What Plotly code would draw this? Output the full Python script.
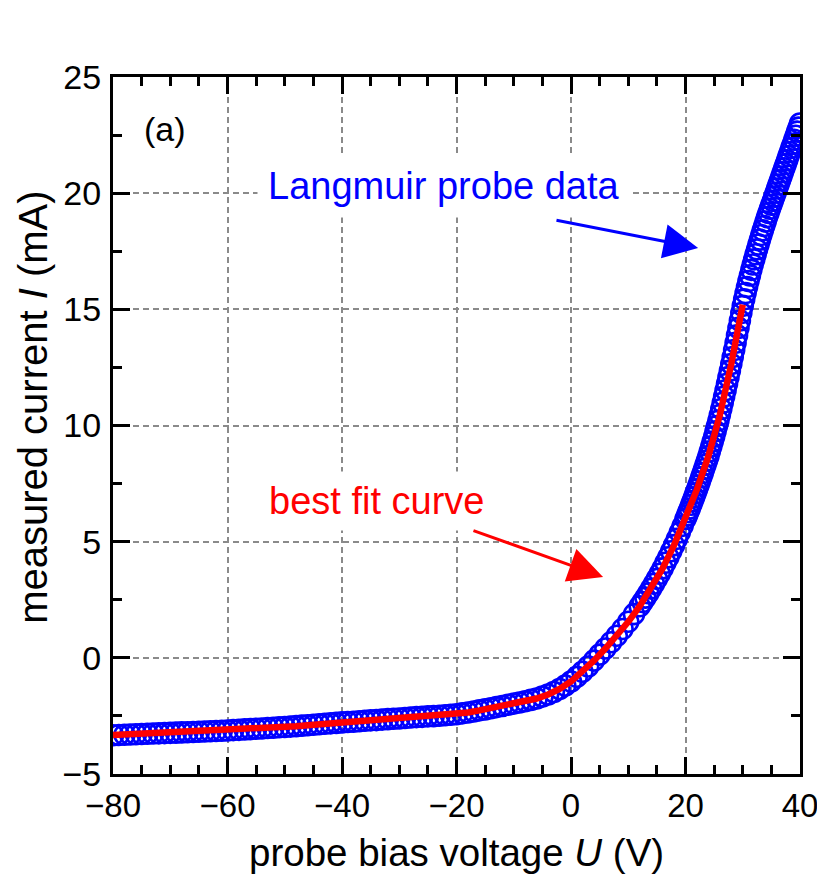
import plotly.graph_objects as go

# ---- data ----
U_data = [-80, -79, -78, -77, -76, -75, -74, -73, -72, -71, -70, -69, -68, -67, -66, -65, -64, -63, -62, -61,
          -60, -59, -58, -57, -56, -55, -54, -53, -52, -51, -50, -49, -48, -47, -46, -45, -44, -43, -42, -41,
          -40, -39, -38, -37, -36, -35, -34, -33, -32, -31, -30, -29, -28, -27, -26, -25, -24, -23, -22, -21,
          -20, -19, -18, -17, -16, -15, -14, -13, -12, -11, -10, -9, -8, -7, -6, -5, -4, -3, -2, -1,
          0, 1, 2, 3, 4, 5, 6, 7, 8, 9, 10, 11, 12,
          12.5, 13, 13.5, 14, 14.5, 15, 15.5, 16, 16.5, 17, 17.5, 18, 18.5, 19, 19.5,
          20, 20.25, 20.5, 20.75, 21, 21.25, 21.5, 21.75, 22, 22.25, 22.5, 22.75, 23, 23.25, 23.5, 23.75,
          24, 24.25, 24.5, 24.75, 25, 25.25, 25.5, 25.75, 26, 26.25, 26.5, 26.75, 27, 27.25, 27.5, 27.75,
          28, 28.25, 28.5, 28.75, 29, 29.25, 29.5, 29.75, 30, 30.25, 30.5, 30.75, 31, 31.25, 31.5, 31.75,
          32, 32.25, 32.5, 32.75, 33, 33.25, 33.5, 33.75, 34, 34.25, 34.5, 34.75, 35, 35.25, 35.5, 35.75,
          36, 36.25, 36.5, 36.75, 37, 37.25, 37.5, 37.75, 38, 38.25, 38.5, 38.75, 39, 39.25, 39.5, 39.75, 40]
I_data = [-3.33, -3.32, -3.31, -3.30, -3.29, -3.28, -3.27, -3.26, -3.25, -3.24, -3.23, -3.22, -3.21, -3.20, -3.19,
          -3.18, -3.17, -3.16, -3.15, -3.14,
          -3.13, -3.11, -3.10, -3.08, -3.07, -3.05, -3.04, -3.02, -3.01, -2.99, -2.98, -2.96, -2.94, -2.92, -2.90,
          -2.88, -2.86, -2.84, -2.82, -2.80,
          -2.78, -2.76, -2.75, -2.73, -2.71, -2.69, -2.68, -2.66, -2.64, -2.62, -2.61, -2.59, -2.57, -2.55, -2.54,
          -2.52, -2.51, -2.49, -2.47, -2.45,
          -2.43, -2.39, -2.35, -2.31, -2.26, -2.22, -2.17, -2.12, -2.07, -2.02, -1.97, -1.92, -1.87, -1.81, -1.75,
          -1.67, -1.58, -1.47, -1.34, -1.19,
          -1.02, -0.82, -0.60, -0.37, -0.12, 0.14, 0.40, 0.67, 0.95, 1.24, 1.55, 1.88, 2.22,
          2.40, 2.59, 2.78, 2.98, 3.19, 3.40, 3.62, 3.85, 4.09, 4.33, 4.59, 4.85, 5.12, 5.40, 5.68,
          5.98, 6.13, 6.28, 6.43, 6.59, 6.75, 6.91, 7.08, 7.25, 7.42, 7.59, 7.77, 7.95, 8.13, 8.31, 8.49,
          8.68, 8.89, 9.10, 9.31, 9.52, 9.75, 9.98, 10.21, 10.45, 10.71, 10.98, 11.25, 11.52, 11.80, 12.08, 12.36,
          12.65, 12.95, 13.25, 13.56, 13.88, 14.20, 14.52, 14.84, 15.15, 15.43, 15.70, 15.96, 16.22, 16.46, 16.70, 16.93,
          17.15, 17.37, 17.58, 17.79, 18.00, 18.20, 18.40, 18.59, 18.78, 18.97, 19.15, 19.33, 19.50, 19.67, 19.85, 20.02,
          20.20, 20.37, 20.55, 20.72, 20.90, 21.07, 21.25, 21.42, 21.60, 21.77, 21.95, 22.12, 22.30, 22.47, 22.65, 22.82,
          23.00]

U_fit = [-80, -78, -76, -74, -72, -70, -68, -66, -64, -62, -60, -58, -56, -54, -52, -50, -48, -46, -44, -42,
         -40, -38, -36, -34, -32, -30, -28, -26, -24, -22, -20, -18, -16, -14, -12, -10, -8, -6, -4, -2,
         0, 2, 4, 6, 8, 10, 12, 14, 16, 18, 20, 22, 24, 26, 28, 30]
I_fit = [-3.32, -3.30, -3.29, -3.27, -3.25, -3.23, -3.21, -3.19, -3.17, -3.15, -3.13, -3.10, -3.07, -3.04, -3.01,
         -2.98, -2.94, -2.90, -2.86, -2.82,
         -2.78, -2.75, -2.71, -2.68, -2.64, -2.61, -2.57, -2.54, -2.51, -2.47, -2.43, -2.35, -2.26, -2.17, -2.07,
         -1.97, -1.87, -1.75, -1.58, -1.34,
         -1.02, -0.60, -0.12, 0.40, 0.95, 1.55, 2.22, 2.98, 3.85, 4.85, 5.98, 7.25, 8.68, 10.45, 12.65, 15.2]

x_ticks = [-80, -60, -40, -20, 0, 20, 40]
y_ticks = [-5, 0, 5, 10, 15, 20, 25]

FONT = "Liberation Sans, Arial, Helvetica, sans-serif"

fig = go.Figure()
fig.add_trace(go.Scatter(
    x=U_data, y=I_data, mode="markers",
    marker=dict(symbol="circle-open", size=20, color="#0000ff", line=dict(width=2.6, color="#0000ff")),
    showlegend=False, cliponaxis=True))
fig.add_trace(go.Scatter(
    x=U_fit, y=I_fit, mode="lines", line=dict(color="#ff0000", width=6.5),
    showlegend=False))

axis_common = dict(
    showline=True, linecolor="black", linewidth=3, mirror="allticks",
    ticks="inside", ticklen=17, tickwidth=2.5, tickcolor="black",
    showgrid=True, gridcolor="#8a8a8a", gridwidth=2, griddash="6px,4px",
    zeroline=False,
)

fig.update_xaxes(
    range=[-80, 40], tickmode="array", tickvals=x_ticks,
    minor=dict(dtick=5, ticks="inside", ticklen=9, tickwidth=2.5, tickcolor="black", showgrid=False),
    ticklabelstandoff=0, tickfont=dict(family=FONT, size=33, color="black"),
    **axis_common)
fig.update_yaxes(
    range=[-5, 25], tickmode="array", tickvals=y_ticks,
    minor=dict(dtick=2.5, ticks="inside", ticklen=9, tickwidth=2.5, tickcolor="black", showgrid=False),
    ticklabelstandoff=2, tickfont=dict(family=FONT, size=34, color="black"),
    **axis_common)

ann_font = dict(family=FONT, size=38)
fig.update_layout(
    width=825, height=884,
    margin=dict(l=105, r=33, t=69, b=118),
    paper_bgcolor="white", plot_bgcolor="white",
    annotations=[
        dict(text="(a)", x=-70.9, y=22.75, xref="x", yref="y", showarrow=False,
             xanchor="center", yanchor="middle",
             font=dict(family=FONT, size=34, color="black")),
        dict(text="Langmuir probe data", x=-22.2, y=20.3, xref="x", yref="y", showarrow=False,
             xanchor="center", yanchor="middle",
             font=dict(ann_font, color="#0000ff"), bgcolor="white", borderpad=10),
        dict(text="best fit curve", x=-34.06, y=6.75, xref="x", yref="y", showarrow=False,
             xanchor="center", yanchor="middle",
             font=dict(ann_font, color="#ff0000"), bgcolor="white", borderpad=8),
        dict(text="", x=22.2, y=17.64, ax=-2.8, ay=18.85, xref="x", yref="y", axref="x", ayref="y",
             showarrow=True, arrowhead=2, arrowwidth=3, arrowsize=2.3, arrowcolor="#0000ff", standoff=0),
        dict(text="", x=5.6, y=3.48, ax=-17.3, ay=5.5, xref="x", yref="y", axref="x", ayref="y",
             showarrow=True, arrowhead=2, arrowwidth=3, arrowsize=2.3, arrowcolor="#ff0000", standoff=0),
        dict(text="measured current <i>I</i> (mA)", x=-0.1164, y=10.76, xref="paper", yref="y",
             xanchor="center", yanchor="middle",
             textangle=-90, showarrow=False, font=dict(family=FONT, size=40, color="black")),
        dict(text="probe bias voltage <i>U</i> (V)", x=0.5, y=-0.112, xref="paper", yref="paper",
             xanchor="center", yanchor="middle",
             showarrow=False, font=dict(family=FONT, size=38.5, color="black")),
    ],
)

fig.write_html("out.html")
